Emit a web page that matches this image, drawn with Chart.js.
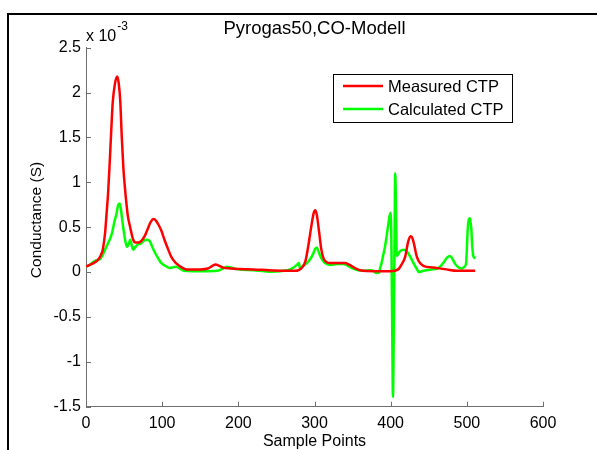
<!DOCTYPE html>
<html><head><meta charset="utf-8">
<script src="https://cdn.jsdelivr.net/npm/chart.js@4/dist/chart.umd.min.js"></script>
<style>html,body{margin:0;padding:0;background:#fff;overflow:hidden}#wrap{position:relative;width:597px;height:450px}</style>
</head><body><div id="wrap"><canvas id="c" width="597" height="450"></canvas></div>
<script>
// Values in units of 1e-3 S
const measuredX = [0,5,10,15,19,22,25,27,29,31,33,35,38,41,43,45,47,49,51,53,55,58,62,65,69,73,77,81,85,89,92,95,99,103,108,112,117,121,126,132,150,160,166,170,175,180,190,200,220,240,260,275,283,288,292,296,299,301,303,306,309,312,316,320,330,340,346,352,360,380,400,410,414,419,423,426,428,431,434,437,443,456,473,487,511];
const measuredY = [0.06,0.08,0.10,0.13,0.18,0.25,0.43,0.65,0.88,1.2,1.55,1.88,2.10,2.18,2.10,1.90,1.5,1.17,0.95,0.77,0.62,0.50,0.36,0.33,0.33,0.35,0.40,0.48,0.56,0.59,0.57,0.53,0.46,0.36,0.25,0.17,0.11,0.08,0.05,0.03,0.03,0.04,0.07,0.085,0.07,0.05,0.04,0.035,0.03,0.02,0.015,0.015,0.045,0.12,0.3,0.52,0.66,0.69,0.64,0.45,0.25,0.15,0.11,0.10,0.10,0.10,0.08,0.05,0.02,0.01,0.01,0.03,0.08,0.17,0.34,0.40,0.39,0.30,0.18,0.12,0.07,0.05,0.03,0.015,0.015];
const calculatedX = [0,5,9,13,18,22,25,30,34,37,40,42,44,45.5,47,50,52,54,56,58,60,62,64,67,72,76,80,84,87,91,95,99,104,110,115,119,123,128,140,160,175,180,185,190,200,220,240,255,268,274,278,279.5,281,285,290,294,298,301,303,305,307,310,314,320,330,337,344,350,357,364,373,378,381,383,385,386,388,390,392.5,395,397,399,400,401,402,403,404,405,406,407,408,410,412,417,420,423,427,430,434,437,441,447,455,462,466,469,474,478,481,484,488,493,497,499,500,501,502,504,505,506,507,508.5,511];
const calculatedY = [0.06,0.08,0.11,0.13,0.14,0.19,0.25,0.34,0.43,0.55,0.65,0.74,0.765,0.72,0.62,0.43,0.33,0.28,0.31,0.36,0.30,0.25,0.27,0.30,0.32,0.35,0.36,0.34,0.28,0.21,0.15,0.10,0.07,0.045,0.055,0.06,0.04,0.015,0.01,0.01,0.02,0.04,0.06,0.05,0.03,0.02,0.005,0.01,0.03,0.06,0.09,0.10,0.04,0.07,0.10,0.14,0.20,0.26,0.27,0.24,0.19,0.14,0.10,0.08,0.09,0.09,0.07,0.04,0.02,0.015,0.02,0.01,-0.01,-0.01,0.0,0.04,0.10,0.18,0.28,0.42,0.54,0.64,0.66,0.3,-0.6,-1.39,-0.7,0.3,1.1,0.7,0.18,0.20,0.23,0.25,0.24,0.21,0.15,0.10,0.04,0.0,0.01,0.02,0.03,0.04,0.07,0.10,0.16,0.18,0.15,0.10,0.06,0.04,0.06,0.10,0.25,0.45,0.56,0.60,0.55,0.47,0.3,0.18,0.15];
const xTickValues = [0,100,200,300,400,500,600];
const yTickValues = [-1.5,-1,-0.5,0,0.5,1,1.5,2,2.5];
const seriesLabels = ['Measured CTP','Calculated CTP'];
const seriesColors = ['#ff0000','#00ff00'];
const yAxisTitle = 'Conductance (S)';

const FONT = '"Liberation Sans", Arial, Helvetica, sans-serif';
Chart.defaults.font.family = FONT;
Chart.defaults.color = '#000';
const AXIS_COLOR = '#6f6f6f';

const decor = {
  id: 'decor',
  afterDraw(chart) {
    const ctx = chart.ctx, xs = chart.scales.x, ys = chart.scales.y, a = chart.chartArea;
    ctx.save();
    // outer frame (left & top)
    ctx.fillStyle = '#000';
    ctx.fillRect(7, 13, 2, 450 - 13);
    ctx.fillRect(7, 13, 597 - 7, 2);
    // inward ticks
    ctx.strokeStyle = AXIS_COLOR; ctx.lineWidth = 1;
    ctx.beginPath();
    xs.ticks.forEach(t => { const px = Math.round(xs.getPixelForValue(t.value)) + 0.5; ctx.moveTo(px, a.bottom); ctx.lineTo(px, a.bottom - 5); });
    ys.ticks.forEach(t => { const py = Math.round(ys.getPixelForValue(t.value)) + 0.5; ctx.moveTo(a.left, py); ctx.lineTo(a.left + 5, py); });
    ctx.stroke();
    // y-axis title
    ctx.fillStyle = '#000';
    ctx.save();
    ctx.translate(37, 220);
    ctx.rotate(-Math.PI / 2);
    ctx.font = '15.5px ' + FONT; ctx.textAlign = 'center'; ctx.textBaseline = 'middle';
    ctx.fillText(yAxisTitle, 0, 0);
    ctx.restore();
    // exponent label
    ctx.textBaseline = 'alphabetic'; ctx.textAlign = 'left';
    ctx.font = '16px ' + FONT;
    ctx.fillText('x 10', a.left, 41);
    const w = ctx.measureText('x 10').width;
    ctx.font = '12px ' + FONT;
    ctx.fillText('-3', a.left + w + 1, 30);
    // legend
    const lx = 333, ly = 74, lw = 179, lh = 48;
    ctx.fillStyle = '#fff'; ctx.fillRect(lx, ly, lw, lh);
    ctx.strokeStyle = '#000'; ctx.lineWidth = 1;
    ctx.strokeRect(lx + 0.5, ly + 0.5, lw, lh);
    ctx.font = '16.5px ' + FONT; ctx.textBaseline = 'middle';
    chart.data.datasets.forEach((ds, i) => {
      const yy = ly + 12 + i * 23;
      ctx.strokeStyle = ds.borderColor; ctx.lineWidth = 2.5;
      ctx.beginPath(); ctx.moveTo(lx + 10, yy); ctx.lineTo(lx + 50, yy); ctx.stroke();
      ctx.fillStyle = '#000'; ctx.fillText(ds.label, lx + 55, yy + 1);
    });
    ctx.restore();
  }
};

const mk = (xsArr, ysArr) => xsArr.map((x, i) => ({x: x, y: ysArr[i]}));

new Chart(document.getElementById('c'), {
  type: 'line',
  data: {
    datasets: [
      {label: seriesLabels[0], data: mk(measuredX, measuredY), borderColor: seriesColors[0], borderWidth: 2.5, pointRadius: 0, fill: false, cubicInterpolationMode: 'monotone'},
      {label: seriesLabels[1], data: mk(calculatedX, calculatedY), borderColor: seriesColors[1], borderWidth: 2.5, pointRadius: 0, fill: false, cubicInterpolationMode: 'monotone'}
    ]
  },
  options: {
    responsive: false, animation: false, events: [],
    layout: {padding: {left: 0, right: 54, top: 0, bottom: 0}},
    plugins: {
      legend: {display: false}, tooltip: {enabled: false},
      title: {display: true, text: 'Pyrogas50,CO-Modell', color: '#000', font: {size: 18.5, weight: 'normal'}, padding: {top: 18, bottom: 7.5}, fullSize: false}
    },
    scales: {
      x: {
        type: 'linear', min: 0, max: 600,
        afterBuildTicks: s => { s.ticks = xTickValues.map(v => ({value: v})); },
        ticks: {padding: 7, font: {size: 16}, color: '#000', maxRotation: 0, autoSkip: false, callback: v => String(v)},
        grid: {display: false, drawTicks: false},
        border: {display: true, color: AXIS_COLOR, width: 1},
        title: {display: true, text: 'Sample Points', color: '#000', font: {size: 16, lineHeight: 1}, padding: {top: 0, bottom: 0}},
        afterFit: s => { s.height = 43.3; }
      },
      y: {
        type: 'linear', min: -1.5, max: 2.5,
        afterBuildTicks: s => { s.ticks = yTickValues.map(v => ({value: v})); },
        ticks: {padding: 5, font: {size: 16}, color: '#000', autoSkip: false, callback: v => String(v)},
        grid: {display: false, drawTicks: false},
        border: {display: true, color: AXIS_COLOR, width: 1},
        title: {display: false},
        afterFit: s => { s.width = 86; }
      }
    }
  },
  plugins: [decor]
});
</script></body></html>
